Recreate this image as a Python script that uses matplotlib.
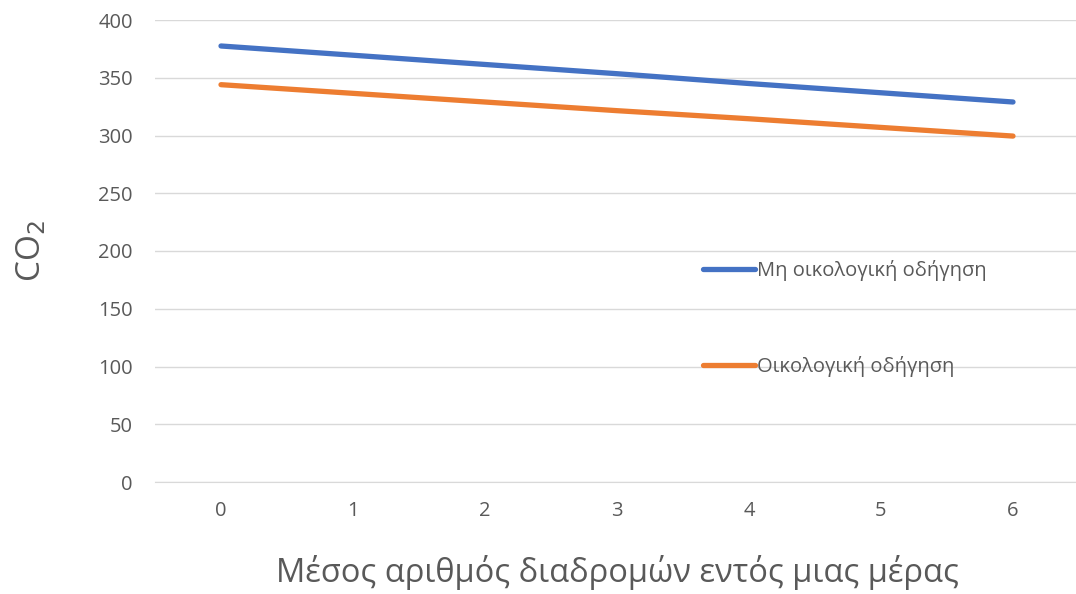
import numpy as np
import matplotlib
matplotlib.use("Agg")
import matplotlib.pyplot as plt

plt.rcParams['font.family'] = ['Open Sans', 'DejaVu Sans']

# data
trips = [0, 1, 2, 3, 4, 5, 6]
non_eco = [377.5, 369.5, 361.5, 353.5, 345.0, 337.0, 329.0]
eco = [344.0, 336.5, 329.0, 321.5, 314.5, 307.0, 299.5]
labels = ["Μη οικολογική οδήγηση", "Οικολογική οδήγηση"]
yticks = [0, 50, 100, 150, 200, 250, 300, 350, 400]

grey = "#595959"

fig = plt.figure(figsize=(10.76, 5.94), dpi=100)
ax = fig.add_axes([155/1076, 1 - 482/594, (1079-155)/1076, (482-20)/594])

l1, = ax.plot(trips, non_eco, color="#4472C4", lw=3.8, solid_capstyle="round")
l2, = ax.plot(trips, eco, color="#ED7D31", lw=3.8, solid_capstyle="round")

ax.set_xlim(-0.5, 6.5)
ax.set_ylim(0, 400)
ax.set_yticks(yticks)
ax.set_xticks(trips)
ax.grid(axis="y", color="#d9d9d9", lw=1)
ax.set_axisbelow(True)
for s in ["top", "right", "left"]:
    ax.spines[s].set_visible(False)
ax.spines["bottom"].set_color("#d9d9d9")
ax.tick_params(length=0, labelsize=14.5, colors=grey)
ax.tick_params(axis="x", pad=14)
ax.tick_params(axis="y", pad=16)

ax.set_xlabel("Μέσος αριθμός διαδρομών εντός μιας μέρας", fontsize=23.5, color=grey, labelpad=24)
ax.set_ylabel("CO$_2$", fontsize=24, color=grey, labelpad=36)

leg = ax.legend([l1, l2], labels, loc="upper left", bbox_to_anchor=((695-155)/(1079-155), (482-252)/462),
                frameon=False, fontsize=14.5, labelcolor=grey, handlelength=2.6, handletextpad=0.1,
                labelspacing=3.7, borderaxespad=0)

fig.savefig("out.png", dpi=100)
